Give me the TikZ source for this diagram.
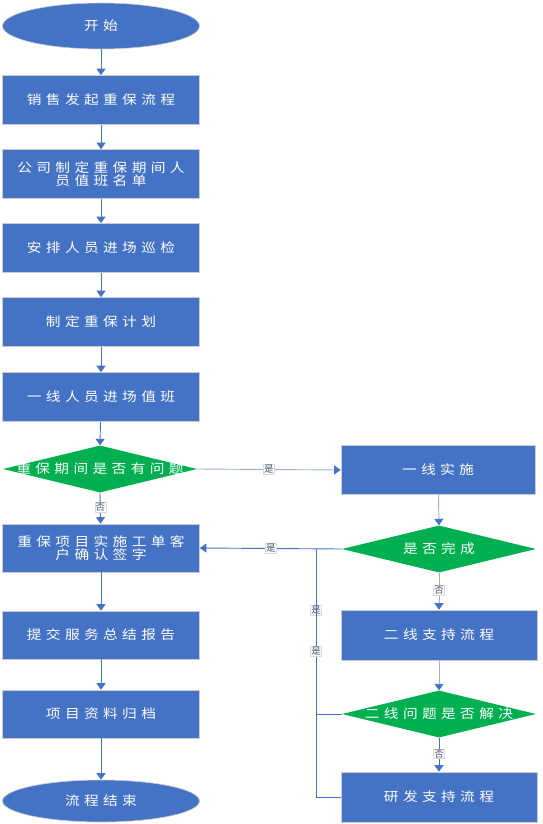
\documentclass[tikz,border=0pt]{standalone}
\usepackage{fontspec}
\newfontfamily\cjk[FakeStretch=1.15,LetterSpace=34]{Noto Sans CJK SC}
\newfontfamily\cjkl{Noto Sans CJK SC}
\usetikzlibrary{shapes.geometric,arrows.meta}
\definecolor{boxblue}{HTML}{4472C4}
\definecolor{dgreen}{HTML}{00B050}
\definecolor{lline}{HTML}{9DAFD6}
\definecolor{lbltext}{HTML}{44546A}
\tikzset{
  x=1pt, y=-1pt,
  txt/.style={text=white, font=\cjk\fontsize{12.8}{13.5}\selectfont, align=center},
  stepbox/.style={rectangle, fill=boxblue, draw=black!20, line width=0.6pt, minimum width=197pt, minimum height=49pt, inner sep=0pt, txt},
  endbox/.style={ellipse, fill=boxblue, draw=black!20, line width=0.6pt, minimum width=197pt, inner sep=0pt, txt},
  decbox/.style={diamond, fill=dgreen, draw=none, minimum width=194pt, minimum height=47pt, inner sep=0pt},
  dectxt/.style={txt},
  conn/.style={draw=boxblue, line width=0.9pt, -{Triangle[width=9pt,length=6.5pt,fill=boxblue,color=boxblue]}},
  lconn/.style={conn, draw=lline},
  plain/.style={draw=boxblue, line width=0.9pt},
  lbl/.style={fill=white, draw=black!15, line width=0.3pt, text=lbltext, font=\cjkl\fontsize{9.5}{10}\selectfont, inner sep=0.8pt}
}
\begin{document}
\begin{tikzpicture}
\useasboundingbox (0,0) rectangle (542,824);
% left column
\node[endbox, minimum height=46pt] (start) at (101,26) {开始};
\node[stepbox] (b1) at (101,100) {销售发起重保流程};
\node[stepbox] (b2) at (101,174) {公司制定重保期间人\\员值班名单};
\node[stepbox] (b3) at (101,248) {安排人员进场巡检};
\node[stepbox] (b4) at (101,322) {制定重保计划};
\node[stepbox] (b5) at (101,397) {一线人员进场值班};
\node[decbox] (d1) at (100,469) {};
\node[dectxt] (d1t) at (100,469) {重保期间是否有问题};
\node[stepbox, minimum height=48pt] (b6) at (101,548) {重保项目实施工单客\\户确认签字};
\node[stepbox, minimum height=48pt] (b7) at (101,635) {提交服务总结报告};
\node[stepbox, minimum height=48pt] (b8) at (101,714) {项目资料归档};
\node[endbox, minimum height=42pt] (end) at (101,801) {流程结束};
% right column
\node[stepbox, minimum width=194pt] (r1) at (438,470) {一线实施};
\node[decbox] (rd1) at (439,549) {};
\node[dectxt] (rd1t) at (439,549) {是否完成};
\node[stepbox, minimum width=196pt, minimum height=50pt] (r2) at (439,635) {二线支持流程};
\node[decbox] (rd2) at (439,714) {};
\node[dectxt] (rd2t) at (439,714) {二线问题是否解决};
\node[stepbox, minimum width=196pt, minimum height=50pt] (r3) at (439,797) {研发支持流程};
\coordinate (j) at (316,549);
% connectors
\draw[conn] (start) -- (b1);
\draw[conn] (b1) -- (b2);
\draw[conn] (b2) -- (b3);
\draw[conn] (b3) -- (b4);
\draw[conn] (b4) -- (b5);
\draw[conn] (b5) -- (d1.north);
\draw[conn] (d1.south) -- node[lbl, pos=0.47] {否} (b6);
\draw[conn] (b6) -- (b7);
\draw[conn] (b7) -- (b8);
\draw[conn] (b8) -- (end);
\draw[lconn] (d1.east) -- node[lbl] {是} (r1.west);
\draw[lconn] (r1) -- (rd1.north);
\draw[lconn] (rd1.south) -- node[lbl, pos=0.47] {否} (r2);
\draw[lconn] (r2) -- (rd2.north);
\draw[conn] (rd2.south) -- node[lbl, pos=0.47] {否} (r3);
\draw[plain] (r3.west) -| node[lbl, pos=0.877] {是} (j);
\draw[plain] (rd2.west) -| node[lbl, pos=0.69] {是} (j);
\draw[conn] (rd1.west) -- node[lbl, pos=0.5] {是} (b6.east);
\end{tikzpicture}
\end{document}
